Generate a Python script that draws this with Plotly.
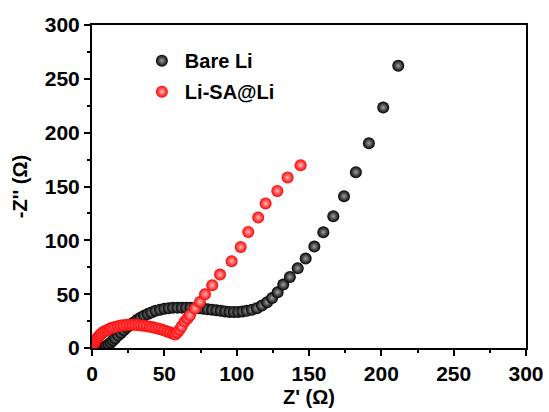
import plotly.graph_objects as go

# Bare Li (black)
bare_x = [8, 9, 10, 11.5, 13, 14.5, 16, 18, 20, 22, 24, 26, 28.5, 31, 33.5, 36, 38.5, 41, 44, 47,
          50, 53, 56, 59, 62, 65, 68, 71, 74, 77, 80, 83, 86, 89, 92, 95, 98, 101, 104, 107,
          110.5, 114, 117.5, 121, 124.5, 128.3, 132.2, 136.8, 142.2, 147.7, 153.7, 159.9,
          166.8, 174.2, 182.4, 191.4, 201.3, 211.7]
bare_y = [0, 1, 2, 3.5, 5, 7, 9, 11.5, 14, 16.5, 19, 21, 23.5, 26, 28, 30, 31.5, 33, 34.5, 35.5,
          36.5, 37, 37.5, 37.5, 37.5, 37.5, 37.5, 37, 37, 36.5, 36, 35.5, 35, 34.5, 34, 33.5, 33.5, 33.5, 34, 34.5,
          35.5, 37, 39.5, 42.5, 46.5, 51.8, 58.9, 66, 74.1, 83.1, 94.2, 107.5,
          122.4, 141, 163.3, 190.2, 223.4, 262.1]

# Li-SA@Li (red)
sa_x = [1, 1.5, 2, 2.7, 3.5, 4.5, 5.5, 6.7, 8, 9.5, 11, 12.5, 14, 16, 18, 20, 22, 24, 26, 28,
        30, 32, 34, 36, 38, 40, 42, 44, 46, 48, 50, 52, 54, 56, 57.5, 59, 60.5, 62, 64, 66,
        67.7, 71.2, 74.6, 78.1, 83.1, 88.5, 96.5, 102.8, 108, 114.9, 120, 128.1, 135.2, 144.2]
sa_y = [3, 4.5, 6, 7.5, 9, 10.5, 12, 13.5, 15, 16, 17, 18, 18.8, 19.5, 20.2, 20.8, 21.2, 21.5, 21.6, 21.6,
        21.5, 21.3, 21, 20.6, 20.2, 19.7, 19.2, 18.6, 17.9, 17.1, 16.2, 15.3, 14.3, 13.2, 12.5, 14.5, 17, 20, 24.5, 27.5,
        30.4, 36.6, 42.8, 49.9, 58.3, 68.2, 80.6, 93.9, 107.8, 121.2, 134.2, 145.9, 158.4, 169.8]

FONT = "Arial, 'Liberation Sans', sans-serif"

fig = go.Figure()
fig.add_trace(go.Scatter(
    x=bare_x, y=bare_y, mode="markers", name="Bare Li", legendgroup="a",
    marker=dict(size=12, color="black", line=dict(width=0),
                gradient=dict(type="radial", color="#a0a0a0")),
))
fig.add_trace(go.Scatter(
    x=sa_x, y=sa_y, mode="markers", name="Li-SA@Li", legendgroup="b",
    marker=dict(size=12, color="#ff0000", line=dict(width=0),
                gradient=dict(type="radial", color="#ffb8b8")),
))

axis_common = dict(
    range=[0, 300], dtick=50, showgrid=False, zeroline=False, automargin=False,
    showline=True, linecolor="black", linewidth=2, mirror=True,
    ticks="outside", ticklen=6, tickwidth=2, tickcolor="black",
    minor=dict(ticks="outside", ticklen=3, tickwidth=2, tickcolor="black", dtick=25),
    tickfont=dict(family=FONT, size=21, color="black", weight="bold"),
)

fig.update_xaxes(**axis_common,
                 title=dict(text="Z' (Ω)", standoff=6,
                            font=dict(family=FONT, size=20, color="black", weight="bold")))
fig.update_yaxes(**axis_common,
                 title=dict(text="-Z'' (Ω)", standoff=12,
                            font=dict(family=FONT, size=20, color="black", weight="bold")))

fig.update_layout(
    width=549, height=412,
    margin=dict(l=92, r=23, t=25, b=64),
    plot_bgcolor="white", paper_bgcolor="white",
    legend=dict(x=0.108, y=0.95, xanchor="left", yanchor="top",
                bgcolor="rgba(0,0,0,0)", tracegroupgap=2, itemwidth=36,
                font=dict(family=FONT, size=20, color="black", weight="bold")),
    showlegend=True,
)

fig.write_html("out.html")
